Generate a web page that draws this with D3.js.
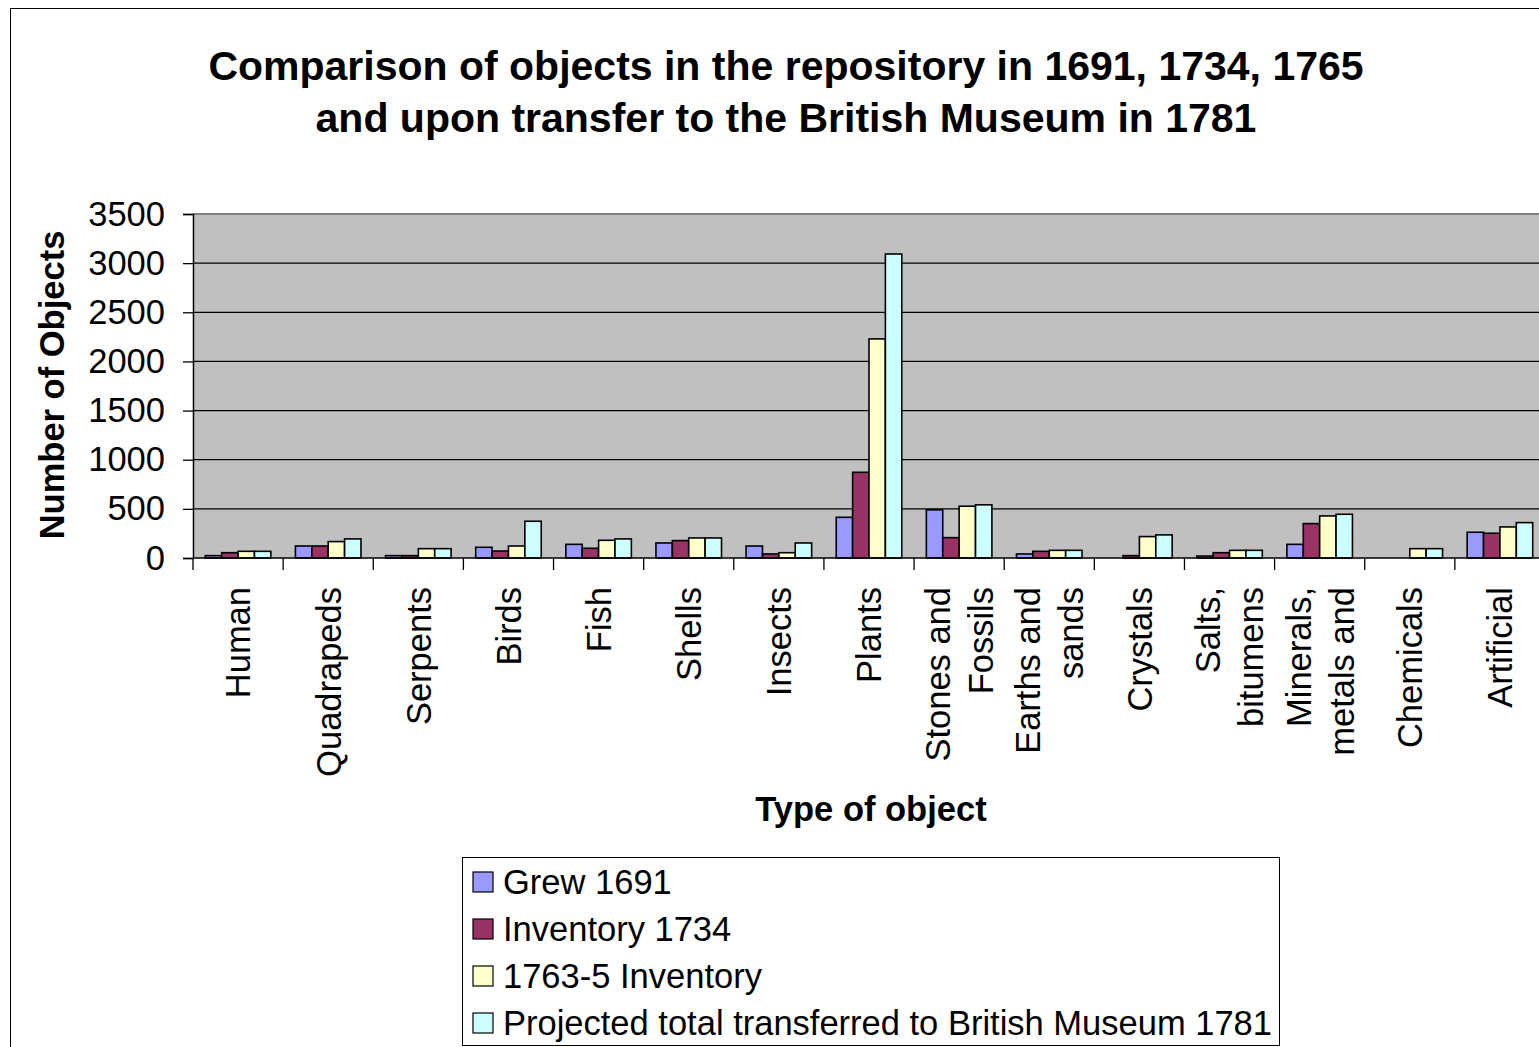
<!DOCTYPE html>
<html>
<head>
<meta charset="utf-8">
<script src="https://cdn.jsdelivr.net/npm/d3@7"></script>
<style>
  body { margin: 0; background: #fff; overflow: hidden; }
  text { font-family: "Liberation Sans", Arial, sans-serif; }
</style>
</head>
<body>
<div id="svg-container"></div>
<script>
////////////////////////////////////////////////////////////////////
////////////////////////////  Data  ////////////////////////////////
const categories = [
  ["Human"], ["Quadrapeds"], ["Serpents"], ["Birds"], ["Fish"], ["Shells"],
  ["Insects"], ["Plants"], ["Stones and", "Fossils"], ["Earths and", "sands"],
  ["Crystals"], ["Salts,", "bitumens"], ["Minerals,", "metals and"],
  ["Chemicals"], ["Artificial"],
];
const seriesNames = [
  "Grew 1691",
  "Inventory 1734",
  "1763-5 Inventory",
  "Projected total transferred to British Museum 1781",
];
const grew1691 = [24, 122, 24, 109, 139, 153, 122, 414, 490, 41, 0, 20, 139, 0, 262];
const inv1734 = [54, 122, 24, 71, 99, 177, 41, 872, 207, 68, 24, 54, 350, 0, 252];
const inv1765 = [68, 167, 95, 122, 180, 204, 54, 2229, 527, 78, 218, 78, 428, 95, 316];
const bm1781 = [68, 194, 95, 374, 194, 204, 153, 3093, 541, 78, 235, 78, 445, 95, 360];
const yTicks = [0, 500, 1000, 1500, 2000, 2500, 3000, 3500];

const colors = ["#9999FF", "#993366", "#FFFFCC", "#CCFFFF"];
const seriesValues = [grew1691, inv1734, inv1765, bm1781];

////////////////////////////////////////////////////////////////////
////////////////////////////  Init  ////////////////////////////////
const width = 1539, height = 1047;
const plot = { left: 193, right: 1545, top: 214, bottom: 558 };
const fs = 34.5; // body font size

const svg = d3.select("#svg-container").append("svg")
  .attr("width", width).attr("height", height);

// outer chart border
svg.append("rect")
  .attr("x", 10.5).attr("y", 8.5)
  .attr("width", 1600).attr("height", 1100)
  .attr("fill", "#fff").attr("stroke", "#000").attr("stroke-width", 1);

// scales
const x0 = d3.scaleBand().domain(d3.range(categories.length))
  .range([plot.left, plot.right]).padding(0);
const bw = x0.bandwidth();
const barW = bw / 5.5;
const x1 = d3.scaleBand().domain(d3.range(seriesNames.length))
  .range([barW * 0.75, bw - barW * 0.75]).padding(0);
const y = d3.scaleLinear().domain([0, 3500]).range([plot.bottom, plot.top]);

// plot area
svg.append("rect")
  .attr("x", plot.left).attr("y", plot.top)
  .attr("width", plot.right - plot.left).attr("height", plot.bottom - plot.top)
  .attr("fill", "#C0C0C0");

// grid lines
svg.selectAll(".grid")
  .data(yTicks.filter((d) => d > 0 && d < 3500))
  .enter().append("line")
  .attr("x1", plot.left).attr("x2", plot.right)
  .attr("y1", (d) => y(d)).attr("y2", (d) => y(d))
  .attr("stroke", "#000").attr("stroke-width", 1.3);

svg.append("line")
  .attr("x1", plot.left).attr("x2", plot.right)
  .attr("y1", plot.top).attr("y2", plot.top)
  .attr("stroke", "#808080").attr("stroke-width", 2);

// bars
categories.forEach((c, i) => {
  seriesValues.forEach((vals, s) => {
    if (vals[i] <= 0) return;
    svg.append("rect")
      .attr("x", x0(i) + x1(s))
      .attr("y", y(vals[i]))
      .attr("width", x1.bandwidth())
      .attr("height", y(0) - y(vals[i]))
      .attr("fill", colors[s])
      .attr("stroke", "#000")
      .attr("stroke-width", 1.6);
  });
});

// y axis
const yAxis = svg.append("g")
  .attr("transform", `translate(${plot.left},0)`)
  .call(d3.axisLeft(y).tickValues(yTicks).tickFormat(d3.format("d"))
    .tickSize(10).tickPadding(18));
yAxis.select(".domain").attr("stroke", "#000").attr("stroke-width", 1.5);
yAxis.selectAll(".tick line").attr("stroke", "#000").attr("stroke-width", 1.3);
yAxis.selectAll("text")
  .attr("font-size", fs).attr("fill", "#000")
  .style("font-family", "'Liberation Sans', Arial, sans-serif");

// x axis (tick marks at category boundaries)
svg.append("line")
  .attr("x1", plot.left).attr("x2", plot.right)
  .attr("y1", plot.bottom).attr("y2", plot.bottom)
  .attr("stroke", "#000").attr("stroke-width", 1.5);
svg.selectAll(".xtick")
  .data(d3.range(categories.length + 1))
  .enter().append("line")
  .attr("x1", (d) => plot.left + d * bw).attr("x2", (d) => plot.left + d * bw)
  .attr("y1", plot.bottom).attr("y2", plot.bottom + 12)
  .attr("stroke", "#000").attr("stroke-width", 1.3);

// category labels (rotated)
const lineGap = 43;
categories.forEach((lines, i) => {
  const cx = x0(i) + bw / 2;
  lines.forEach((ln, j) => {
    const off = (j - (lines.length - 1) / 2) * lineGap;
    svg.append("text")
      .attr("transform", `translate(${cx + off},587) rotate(-90)`)
      .attr("text-anchor", "end")
      .attr("dy", "0.36em")
      .attr("font-size", fs)
      .attr("fill", "#000")
      .text(ln);
  });
});

// titles
const title = svg.append("text")
  .attr("x", 786).attr("text-anchor", "middle")
  .attr("font-size", 41).attr("font-weight", "bold");
title.append("tspan").attr("x", 786).attr("y", 80)
  .text("Comparison of objects in the repository in 1691, 1734, 1765");
title.append("tspan").attr("x", 786).attr("y", 132)
  .text("and upon transfer to the British Museum in 1781");

svg.append("text")
  .attr("x", 871).attr("y", 821)
  .attr("text-anchor", "middle")
  .attr("font-size", fs).attr("font-weight", "bold")
  .text("Type of object");

svg.append("text")
  .attr("transform", "translate(52,385) rotate(-90)")
  .attr("text-anchor", "middle").attr("dy", "0.36em")
  .attr("font-size", fs).attr("font-weight", "bold")
  .text("Number of Objects");

// legend
const legend = svg.append("g");
legend.append("rect")
  .attr("x", 462.5).attr("y", 857.5)
  .attr("width", 817).attr("height", 188)
  .attr("fill", "#fff").attr("stroke", "#000").attr("stroke-width", 1);

const legendItems = legend.selectAll(".item")
  .data(seriesNames)
  .enter().append("g")
  .attr("transform", (d, i) => `translate(0,${882 + i * 47})`);
legendItems.append("rect")
  .attr("x", 473).attr("y", -10)
  .attr("width", 20).attr("height", 20)
  .attr("fill", (d, i) => colors[i])
  .attr("stroke", "#000").attr("stroke-width", 1.2);
legendItems.append("text")
  .attr("x", 503).attr("dy", "0.36em")
  .attr("font-size", fs)
  .text((d) => d);
</script>
</body>
</html>
